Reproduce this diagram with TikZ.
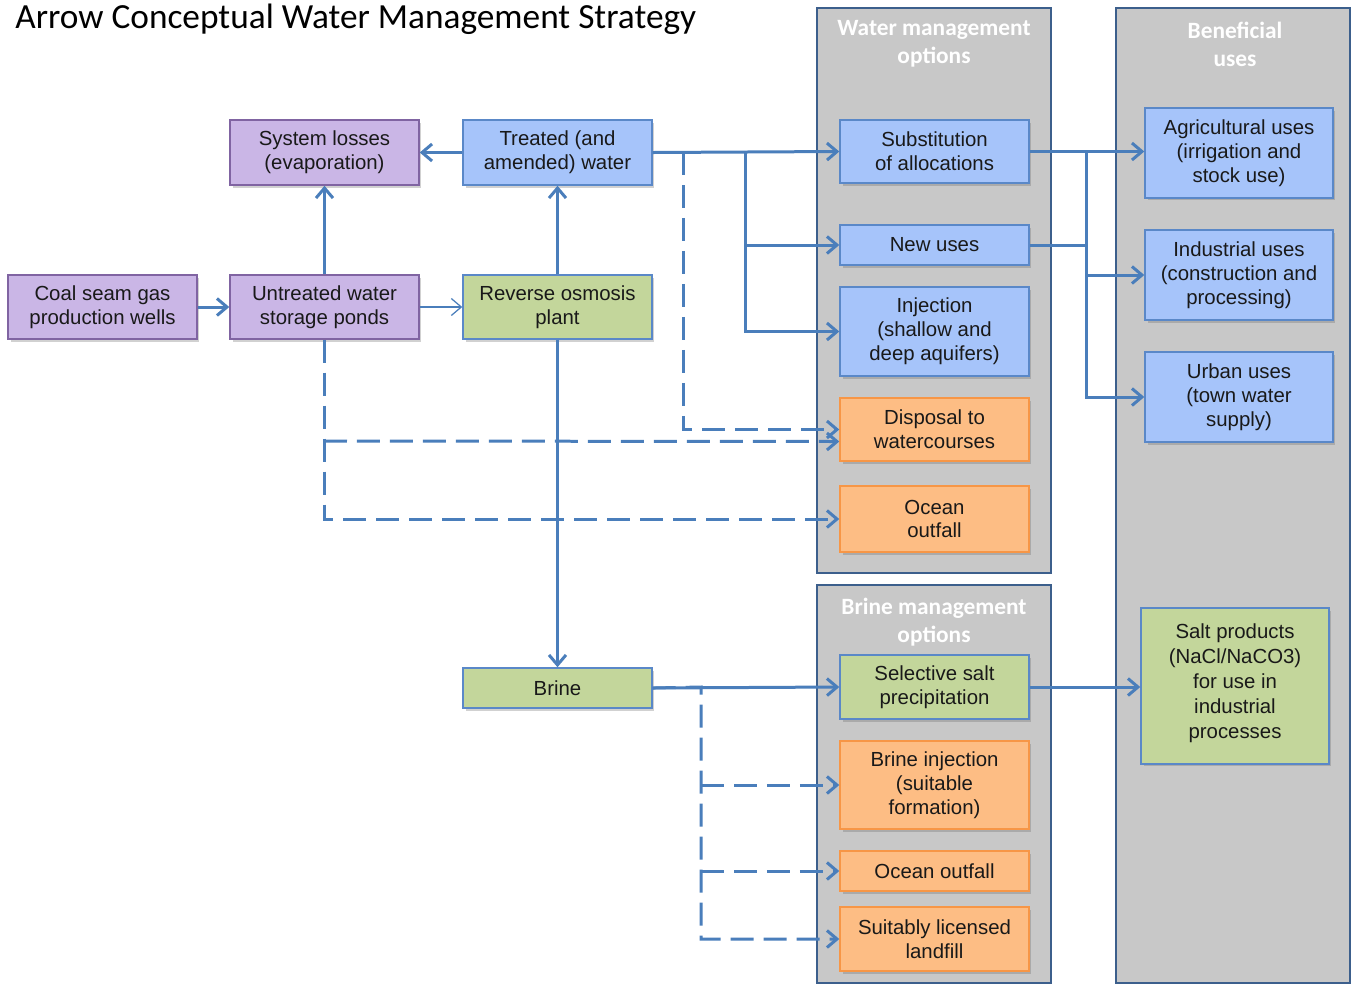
\documentclass[tikz,border=0pt]{standalone}
\usepackage{fontspec}
\setmainfont{Liberation Sans}
\newfontfamily\calibri{Carlito}
\usetikzlibrary{positioning,arrows.meta,shadows}
\definecolor{lineblue}{HTML}{4A7EBB}
\definecolor{panelgray}{HTML}{C8C8C8}
\definecolor{paneledge}{HTML}{3C5F8C}
\definecolor{purplefill}{HTML}{CAB6E6}
\definecolor{purpleedge}{HTML}{8064A2}
\definecolor{bluefill}{HTML}{A6C4FA}
\definecolor{blueedge}{HTML}{5A88C8}
\definecolor{greenfill}{HTML}{C3D69B}
\definecolor{orangefill}{HTML}{FDBD84}
\definecolor{orangeedge}{HTML}{F79646}
\tikzset{
	box/.style={rectangle, draw, line width=0.03cm, minimum width=3.78cm, inner sep=0pt, align=center,
		font=\fontsize{11.6pt}{13.6pt}\selectfont, text=black!90,
		drop shadow={shadow xshift=0.05cm, shadow yshift=-0.05cm, opacity=0.3, fill=black!60}},
	purplebox/.style={box, fill=purplefill, draw=purpleedge},
	bluebox/.style={box, fill=bluefill, draw=blueedge},
	greenbox/.style={box, fill=greenfill, draw=blueedge},
	orangebox/.style={box, fill=orangefill, draw=orangeedge},
	panel/.style={fill=panelgray, draw=paneledge, line width=0.05cm},
	paneltitle/.style={text=white, align=center, font=\calibri\bfseries\fontsize{13.3pt}{15.9pt}\selectfont},
	flow/.style={draw=lineblue, line width=0.06cm, -{Straight Barb[length=0.2cm, width=0.34cm]}},
	dflow/.style={flow, dash pattern=on 0.46cm off 0.2cm},
}
\begin{document}
\begin{tikzpicture}[x=0.02cm, y=-0.02cm]
				\useasboundingbox (0,0) rectangle (1356,985);
				\node[anchor=west, inner sep=0pt, font=\calibri\fontsize{20.1pt}{23pt}\selectfont] (title) at (15,19) {Arrow Conceptual Water Management Strategy};
				\draw[panel] (817,8) rectangle (1051,573);
				\draw[panel] (817,585) rectangle (1051,983);
				\draw[panel] (1116,8) rectangle (1350,983);
				\node[paneltitle] (wmo) at (934,44) {Water management\\options};
				\node[paneltitle] (ben) at (1235,44) {Beneficial\\uses};
				\node[paneltitle] (bmo) at (934,622) {Brine management\\options};
				\node[purplebox, minimum height=1.28cm] (Coal) at (102.5,307) {Coal seam gas\\production wells};
				\node[purplebox, minimum height=1.28cm] (Pond) at (324.5,307) {Untreated water\\storage ponds};
				\node[purplebox, minimum height=1.3cm] (Loss) at (324.5,152.5) {System losses\\(evaporation)};
				\node[bluebox, minimum height=1.3cm] (Treat) at (557.5,152.5) {Treated (and\\amended) water};
				\node[greenbox, minimum height=1.28cm] (RO) at (557.5,307) {Reverse osmosis\\plant};
				\node[greenbox, minimum height=0.8cm] (Brine) at (557.5,688) {Brine};
				\node[bluebox, minimum height=1.26cm] (Sub) at (934.5,151.5) {Substitution\\of allocations};
				\node[bluebox, minimum height=0.8cm] (New) at (934.5,245) {New uses};
				\node[bluebox, minimum height=1.78cm] (Inj) at (934.5,331.5) {Injection\\(shallow and\\deep aquifers)};
				\node[orangebox, minimum height=1.26cm] (Disp) at (934.5,429.5) {Disposal to\\watercourses};
				\node[orangebox, minimum height=1.32cm] (Ocean) at (934.5,519) {Ocean\\outfall};
				\node[greenbox, minimum height=1.28cm] (Salt) at (934.5,687) {Selective salt\\precipitation};
				\node[orangebox, minimum height=1.76cm] (BInj) at (934.5,785) {Brine injection\\(suitable\\formation)};
				\node[orangebox, minimum height=0.8cm] (BOcean) at (934.5,871) {Ocean outfall};
				\node[orangebox, minimum height=1.28cm] (Fill) at (934.5,939) {Suitably licensed\\landfill};
				\node[bluebox, minimum width=3.76cm, minimum height=1.8cm] (Agri) at (1239,153) {Agricultural uses\\(irrigation and\\stock use)};
				\node[bluebox, minimum width=3.76cm, minimum height=1.8cm] (Indu) at (1239,275) {Industrial uses\\(construction and\\processing)};
				\node[bluebox, minimum width=3.76cm, minimum height=1.8cm] (Urban) at (1239,397) {Urban uses\\(town water\\supply)};
				\node[greenbox, minimum width=3.76cm, minimum height=3.12cm, font=\fontsize{11.6pt}{14.1pt}\selectfont] (Prod) at (1235,686) {Salt products\\(NaCl/NaCO3)\\for use in\\industrial\\processes\\[-0.3cm]};
				\coordinate (tj) at (745,152);
				\coordinate (td) at (683,152);
				\coordinate (pd) at (324,441);
				\coordinate (bd) at (701,687);
				\coordinate (rj) at (1086,151);
				\draw[flow] (Coal) -- (Pond);
				\draw[flow, line width=0.025cm] (Pond) -- (RO);
				\draw[flow] (Pond) -- (Loss);
				\draw[flow] (RO) -- (Treat);
				\draw[flow] (Treat) -- (Loss);
				\draw[flow] (RO) -- (Brine);
				\draw[flow] (Treat.east) -- (Sub.west);
				\draw[flow] (tj) |- (Inj.west);
				\draw[flow] (tj |- New.west) -- (New.west);
				\draw[dflow] (td) |- (Disp.west);
				\draw[dflow] (Pond.south) |- (Ocean.west);
				\draw[dflow] (pd) -- ([yshift=-0.24cm]Disp.west);
				\draw[flow] (Brine.east) -- (Salt.west);
				\draw[dflow] (Brine.east) -- (bd) |- (Fill.west);
				\draw[dflow] (bd |- BInj.west) -- (BInj.west);
				\draw[dflow] (bd |- BOcean.west) -- (BOcean.west);
				\draw[flow] (Sub.east) -- (Sub.east -| Agri.west);
				\draw[flow] (rj) |- (Urban.west);
				\draw[draw=lineblue, line width=0.06cm] (New.east) -- (New.east -| rj);
				\draw[flow] (rj |- Indu.west) -- (Indu.west);
				\draw[flow] (Salt.east) -- (Salt.east -| Prod.west);
			\end{tikzpicture}
\end{document}
